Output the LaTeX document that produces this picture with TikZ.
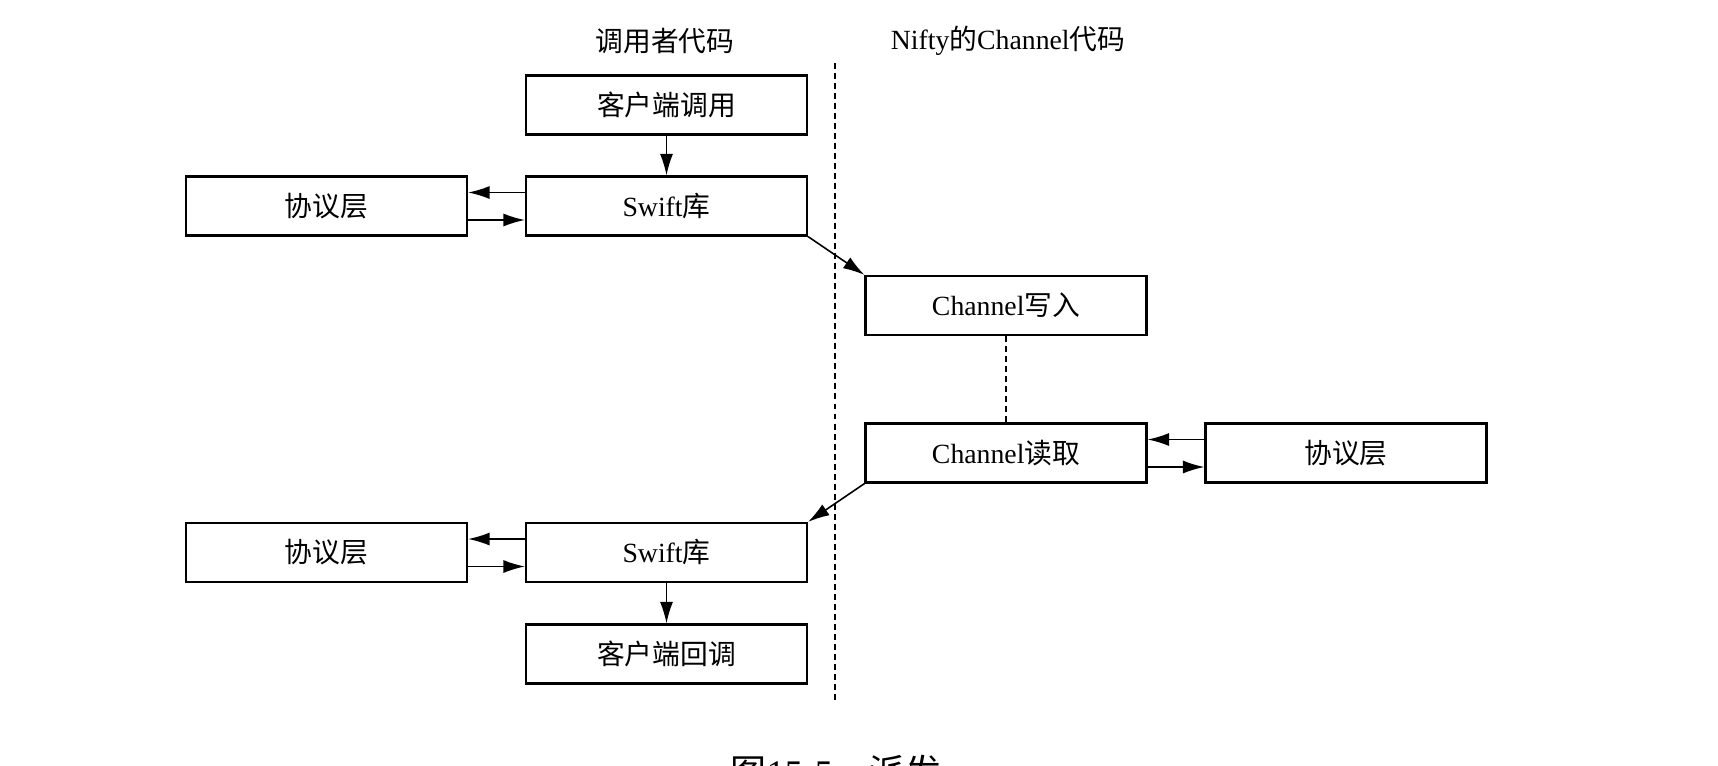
\documentclass[tikz,border=0pt]{standalone}
\usepackage{fontspec}
\setmainfont{Liberation Serif}
\newfontfamily\cjk{Noto Sans CJK SC}
\usetikzlibrary{arrows.meta}

\tikzset{
    block/.style={draw, line width=1.25pt, minimum width=5.62cm, minimum height=1.18cm, inner sep=0pt},
    link/.style={->, line width=0.9pt},
    divider/.style={line width=0.75pt, dash pattern=on 3.4pt off 2.3pt},
}

\begin{document}
\begin{tikzpicture}[x=0.02cm, y=-0.02cm, >={Latex[length=0.43cm, width=0.26cm]}, font=\fontsize{15.8pt}{19pt}\selectfont]
    % Canvas: 1 unit = 1 pixel of the 1718 x 765 figure, y grows downwards
    \useasboundingbox (0,0) rectangle (1718,765);

    % --- COLUMN HEADERS AND DIVIDER ---
    \node (HeadCaller) at (665,41) {\cjk 调用者代码};
    \node (HeadNifty) at (1008,41) {Nifty{\cjk 的}Channel{\cjk 代码}};
    \coordinate (DivTop) at (835,63);
    \coordinate (DivBot) at (835,700);
    \draw[divider] (DivTop) -- (DivBot);

    % --- CALLER SIDE (left column) ---
    \node[block] (CallBox)   at (666.5,105)   {\cjk 客户端调用};
    \node[block] (SwiftUp)   at (666.5,206)   {Swift{\cjk 库}};
    \node[block] (ProtoUp)   at (326.5,206)   {\cjk 协议层};
    \node[block] (SwiftDown) at (666.5,552.5) {Swift{\cjk 库}};
    \node[block] (ProtoDown) at (326.5,552.5) {\cjk 协议层};
    \node[block] (BackBox)   at (666.5,654)   {\cjk 客户端回调};

    % --- NIFTY SIDE (right column) ---
    \node[block] (WriteBox)  at (1006,305.5)  {Channel{\cjk 写入}};
    \node[block] (ReadBox)   at (1006,453)    {Channel{\cjk 读取}};
    \node[block] (ProtoRead) at (1346,453)    {\cjk 协议层};

    % --- CONNECTORS ---
    \draw[link] (CallBox) -- (SwiftUp);
    \draw[link] (SwiftDown) -- (BackBox);
    \draw[link] (SwiftUp.south east) -- (WriteBox.north west);
    \draw[link] (ReadBox.south west) -- (SwiftDown.north east);
    \draw[divider] (WriteBox.south) -- (ReadBox.north);

    % Pairs of opposite arrows: upper one goes left, lower one goes right
    \foreach \lft/\rgt in {ProtoUp/SwiftUp, ProtoDown/SwiftDown, ReadBox/ProtoRead} {
        \draw[link] ([yshift=0.27cm]\rgt.west) -- ([yshift=0.27cm]\lft.east);
        \draw[link] ([yshift=-0.28cm]\lft.east) -- ([yshift=-0.28cm]\rgt.west);
    }

    % --- CAPTION (cut by the lower edge, as in the figure) ---
    \node[anchor=base, font=\fontsize{20.5pt}{24pt}\selectfont] (Caption) at (836,785) {{\cjk 图}15-5\quad{\cjk 派发}};
\end{tikzpicture}
\end{document}
